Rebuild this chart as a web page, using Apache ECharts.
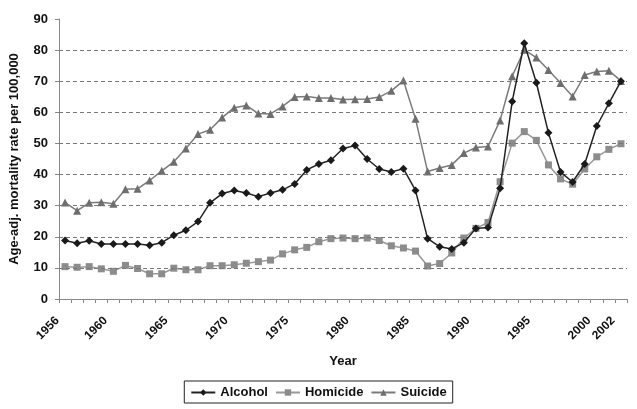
<!DOCTYPE html>
<html>
<head>
<meta charset="utf-8">
<script src="https://cdn.jsdelivr.net/npm/echarts@6/dist/echarts.min.js"></script>
<style>html,body{margin:0;padding:0;background:#fff;}#c{width:637px;height:409px;}</style>
</head>
<body>
<div id="c"></div>
<script>
var years = [];
for (var y = 1956; y <= 2002; y++) years.push(String(y));
var shownYears = ['1956','1960','1965','1970','1975','1980','1985','1990','1995','2000','2002'];

var alcohol = [18.8,17.9,18.7,17.7,17.7,17.7,17.7,17.3,18.1,20.5,22.1,24.9,30.9,33.9,34.9,34.1,32.9,34.1,35.1,37.0,41.5,43.4,44.6,48.4,49.3,45.0,41.8,40.8,41.9,34.9,19.4,16.8,16.1,18.1,22.7,23.0,35.6,63.5,82.2,69.5,53.4,40.8,37.6,43.4,55.6,62.9,70.0];
var homicide = [10.4,10.2,10.4,9.7,8.9,10.8,9.8,8.1,8.1,9.9,9.4,9.4,10.7,10.7,11.0,11.5,12.0,12.5,14.5,15.8,16.6,18.4,19.4,19.6,19.4,19.6,18.8,17.1,16.4,15.4,10.6,11.4,14.8,19.6,22.7,24.6,37.7,50.1,53.8,51.0,43.1,38.6,36.9,41.8,45.7,48.1,49.9];
var suicide = [31.0,28.4,30.9,31.1,30.6,35.3,35.4,38.1,41.2,44.1,48.4,53.0,54.4,58.3,61.5,62.2,59.6,59.5,61.9,64.9,65.1,64.6,64.6,64.1,64.2,64.3,64.9,66.9,70.2,57.9,41.0,42.1,43.1,46.9,48.7,49.0,57.4,71.6,80.1,77.6,73.6,69.4,65.1,72.0,73.1,73.4,70.1];
var gridValues = [10,20,30,40,50,60,70,80];

var chart = echarts.init(document.getElementById('c'), null, {renderer:'canvas'});
var font = 'Liberation Sans, Arial, sans-serif';
chart.setOption({
  animation: false,
  backgroundColor: '#fff',
  textStyle: {fontFamily: font},
  grid: {left: 54, right: 10, top: 19, bottom: 110, containLabel: false},
  legend: {
    data: ['Alcohol','Homicide','Suicide'],
    bottom: 6, left: 'center',
    borderColor: '#222', borderWidth: 1, borderRadius: 0,
    padding: [5,6,4,6],
    itemGap: 7, itemWidth: 24, itemHeight: 8,
    textStyle: {fontFamily: font, fontWeight: 'bold', fontSize: 13, color: '#111'}
  },
  xAxis: {
    type: 'category', data: years, boundaryGap: true,
    name: 'Year', nameLocation: 'middle', nameGap: 56,
    nameTextStyle: {fontFamily: font, fontWeight: 'bold', fontSize: 13, color: '#111'},
    axisLine: {lineStyle: {color: '#888', width: 1}},
    axisTick: {show: true, interval: 0, length: 4, lineStyle: {color: '#888'}},
    axisLabel: {
      rotate: 45, margin: 12, padding: [0, 11, 0, 0],
      fontFamily: font, fontWeight: 'bold', fontSize: 12, color: '#111',
      interval: function (i, v) { return shownYears.indexOf(v) >= 0; }
    },
    splitLine: {show: false}
  },
  yAxis: {
    type: 'value', min: 0, max: 90, interval: 10,
    name: 'Age-adj. mortality rate per 100,000', nameLocation: 'middle', nameGap: 38,
    nameTextStyle: {fontFamily: font, fontWeight: 'bold', fontSize: 13, color: '#111'},
    axisLine: {show: true, lineStyle: {color: '#888', width: 1}},
    axisTick: {show: true, length: 4, lineStyle: {color: '#888'}},
    axisLabel: {margin: 11, fontFamily: font, fontWeight: 'bold', fontSize: 13, color: '#111'},
    splitLine: {show: false}
  },
  series: [
    {
      name: 'gridlines', type: 'line', data: [], z: 1, silent: true,
      markLine: {
        silent: true, symbol: 'none', label: {show: false}, animation: false,
        lineStyle: {type: [4,3], color: '#777', width: 1},
        data: gridValues.map(function (v) { return {yAxis: v}; })
      }
    },
    {
      name: 'Suicide', type: 'line', data: suicide, z: 3,
      symbol: 'triangle', symbolSize: 8,
      lineStyle: {color: '#7a7a7a', width: 1.5},
      itemStyle: {color: '#6e6e6e'}
    },
    {
      name: 'Homicide', type: 'line', data: homicide, z: 4,
      symbol: 'rect', symbolSize: 7,
      lineStyle: {color: '#999', width: 1.5},
      itemStyle: {color: '#8c8c8c'}
    },
    {
      name: 'Alcohol', type: 'line', data: alcohol, z: 5,
      symbol: 'diamond', symbolSize: 8,
      lineStyle: {color: '#222', width: 1.5},
      itemStyle: {color: '#1a1a1a'}
    }
  ]
});
</script>
</body>
</html>
